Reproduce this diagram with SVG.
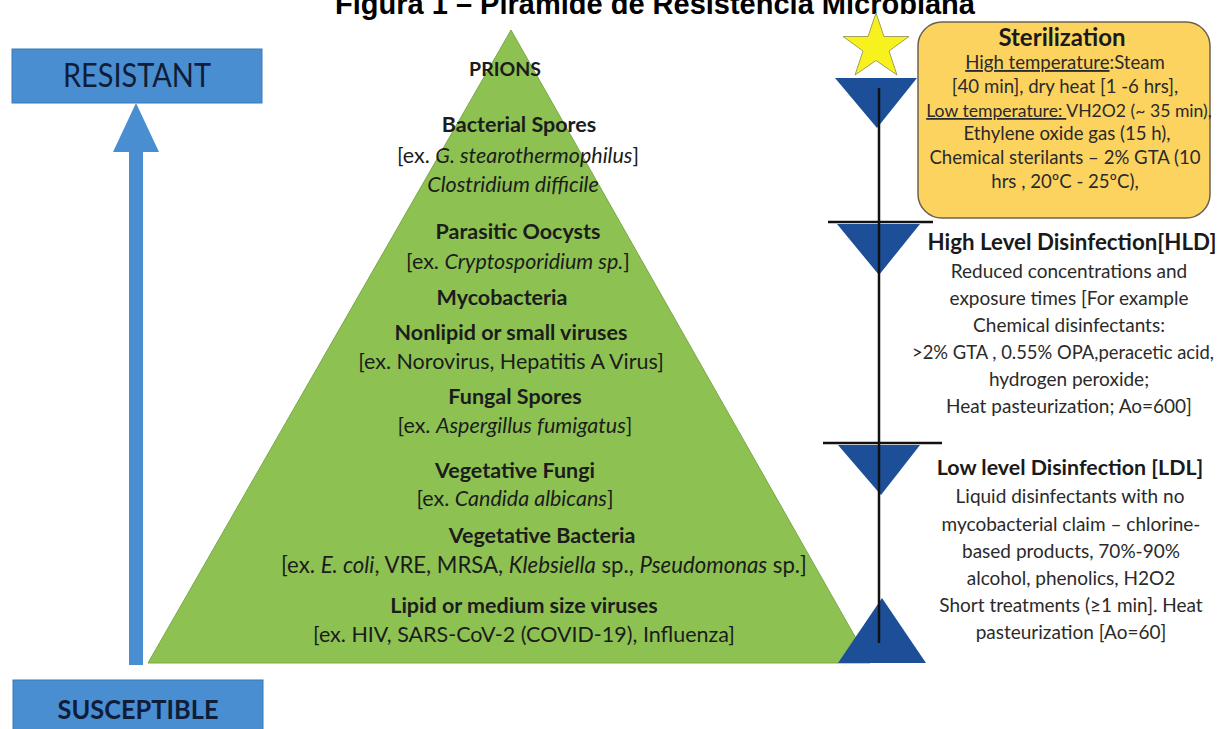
<svg xmlns="http://www.w3.org/2000/svg" width="1220" height="729" viewBox="0 0 1220 729">
  <style>
    .title { font-family: "Liberation Sans", Arial, sans-serif; font-size: 29px; font-weight: bold; fill: #000; text-anchor: middle; }
    .lbl { font-family: Lato, "Open Sans", sans-serif; fill: #0f1d38; text-anchor: middle; }
    .pt { font-family: Lato, "Open Sans", sans-serif; font-size: 21.5px; fill: #1c1c1c; text-anchor: middle; }
    .rt { font-family: Lato, "Open Sans", sans-serif; font-size: 19px; fill: #2a2a2a; text-anchor: middle; }
    .st { font-size: 18.6px; }
    .hd { font-weight: bold; fill: #1a1a1a; }
    .b { font-weight: bold; }
    .i { font-style: italic; }
    .u { text-decoration: underline; }
    .bluebox { fill: #4a8ed2; stroke: #3b79b9; stroke-width: 1; }
    .level { fill: #1d4f98; }
    .rule { stroke: #111; stroke-width: 2.5; fill: none; }
  </style>

  <rect width="1220" height="729" fill="#ffffff"/>

  <!-- heading, clipped at the top edge -->
  <text class="title" x="655" y="14">Figura 1 – Pirâmide de Resistência Microbiana</text>

  <!-- resistance scale on the left -->
  <g id="resistant">
    <rect class="bluebox" x="12" y="49" width="250" height="54"/>
    <text class="lbl" x="137" y="87" style="font-size:32px" textLength="148" lengthAdjust="spacingAndGlyphs">RESISTANT</text>
  </g>
  <g id="scale-arrow">
    <polygon points="136,103 159,152 143,152 143,665 129,665 129,152 113,152" fill="#4a8ed2"/>
  </g>
  <g id="susceptible">
    <rect class="bluebox" x="13" y="680" width="250" height="60"/>
    <text class="lbl b" x="138" y="719" style="font-size:27px" textLength="161" lengthAdjust="spacingAndGlyphs">SUSCEPTIBLE</text>
  </g>

  <!-- resistance pyramid -->
  <g id="pyramid">
    <polygon points="511,30 870,663 148,663" fill="#8dc152" stroke="#7aa846" stroke-width="1"/>
    <text class="pt b" x="505" y="76" style="font-size:19.5px">PRIONS</text>
    <text class="pt b" x="519" y="132">Bacterial Spores</text>
    <text class="pt" x="518" y="163">[ex. <tspan class="i">G. stearothermophilus</tspan>]</text>
    <text class="pt i" x="513" y="192">Clostridium difficile</text>
    <text class="pt b" x="518" y="239">Parasitic Oocysts</text>
    <text class="pt" x="518" y="269">[ex. <tspan class="i">Cryptosporidium sp.</tspan>]</text>
    <text class="pt b" x="502" y="305">Mycobacteria</text>
    <text class="pt b" x="511" y="340">Nonlipid or small viruses</text>
    <text class="pt" x="511" y="369">[ex. Norovirus, Hepatitis A Virus]</text>
    <text class="pt b" x="515" y="404">Fungal Spores</text>
    <text class="pt" x="515" y="433">[ex. <tspan class="i">Aspergillus fumigatus</tspan>]</text>
    <text class="pt b" x="515" y="478">Vegetative Fungi</text>
    <text class="pt" x="515" y="506">[ex. <tspan class="i">Candida albicans</tspan>]</text>
    <text class="pt b" x="542" y="543">Vegetative Bacteria</text>
    <text class="pt" x="544" y="573" style="font-size:22.2px">[ex. <tspan class="i">E. coli</tspan>, VRE, MRSA, <tspan class="i">Klebsiella</tspan> sp., <tspan class="i">Pseudomonas</tspan> sp.]</text>
    <text class="pt b" x="524" y="613">Lipid or medium size viruses</text>
    <text class="pt" x="524" y="642">[ex. HIV, SARS-CoV-2 (COVID-19), Influenza]</text>
  </g>

  <!-- process level markers on the right -->
  <g id="connectors">
    <line class="rule" x1="828" y1="222" x2="933" y2="222"/>
    <line class="rule" x1="823" y1="443" x2="942" y2="443"/>
  </g>
  <g id="star">
    <polygon points="876,13 884,36.5 909,36.5 889,51 897,75 876,60.5 855,75 863,51 843,36.5 868,36.5" fill="#f7f21e" stroke="#a0a060" stroke-width="1"/>
  </g>
  <g id="level-markers">
    <polygon class="level" points="835,78 917,78 877,128"/>
    <polygon class="level" points="837,224 920,224 879,275"/>
    <polygon class="level" points="838,445 920,445 881,495"/>
    <polygon class="level" points="882,598 926,663 838,663"/>
    <line class="rule" x1="879" y1="88" x2="879" y2="643"/>
  </g>

  <g id="sterilization">
    <rect x="918" y="22" width="292" height="196" rx="24" fill="#fdd360" stroke="#6b6250" stroke-width="1.5"/>
    <text class="rt hd" x="1062" y="46" style="font-size:24px">Sterilization</text>
    <text class="rt st" x="1065" y="69"><tspan class="u">High temperature</tspan>:Steam</text>
    <text class="rt st" x="1065" y="93">[40 min], dry heat [1 -6 hrs],</text>
    <text class="rt" x="1069" y="117" style="font-size:17.6px"><tspan class="u">Low temperature: </tspan>VH2O2 (~ 35 min),</text>
    <text class="rt st" x="1067" y="140">Ethylene oxide gas (15 h),</text>
    <text class="rt st" x="1065" y="164">Chemical sterilants – 2% GTA (10</text>
    <text class="rt st" x="1065" y="188">hrs , 20ºC - 25ºC),</text>
  </g>

  <g id="high-level">
    <text class="rt hd" x="1072" y="250" style="font-size:22.3px">High Level Disinfection[HLD]</text>
    <text class="rt" x="1069" y="278">Reduced concentrations and</text>
    <text class="rt" x="1069" y="305">exposure times [For example</text>
    <text class="rt" x="1069" y="332">Chemical disinfectants:</text>
    <text class="rt" x="1063" y="359" style="font-size:18.4px">&gt;2% GTA , 0.55% OPA,peracetic acid,</text>
    <text class="rt" x="1069" y="386">hydrogen peroxide;</text>
    <text class="rt" x="1069" y="413">Heat pasteurization; Ao=600]</text>
  </g>

  <g id="low-level">
    <text class="rt hd" x="1070" y="475" style="font-size:21.4px">Low level Disinfection [LDL]</text>
    <text class="rt" x="1070" y="503">Liquid disinfectants with no</text>
    <text class="rt" x="1071" y="531">mycobacterial claim – chlorine-</text>
    <text class="rt" x="1071" y="558">based products, 70%-90%</text>
    <text class="rt" x="1071" y="585">alcohol, phenolics, H2O2</text>
    <text class="rt" x="1071" y="612">Short treatments (≥1 min]. Heat</text>
    <text class="rt" x="1071" y="639">pasteurization [Ao=60]</text>
  </g>
</svg>
